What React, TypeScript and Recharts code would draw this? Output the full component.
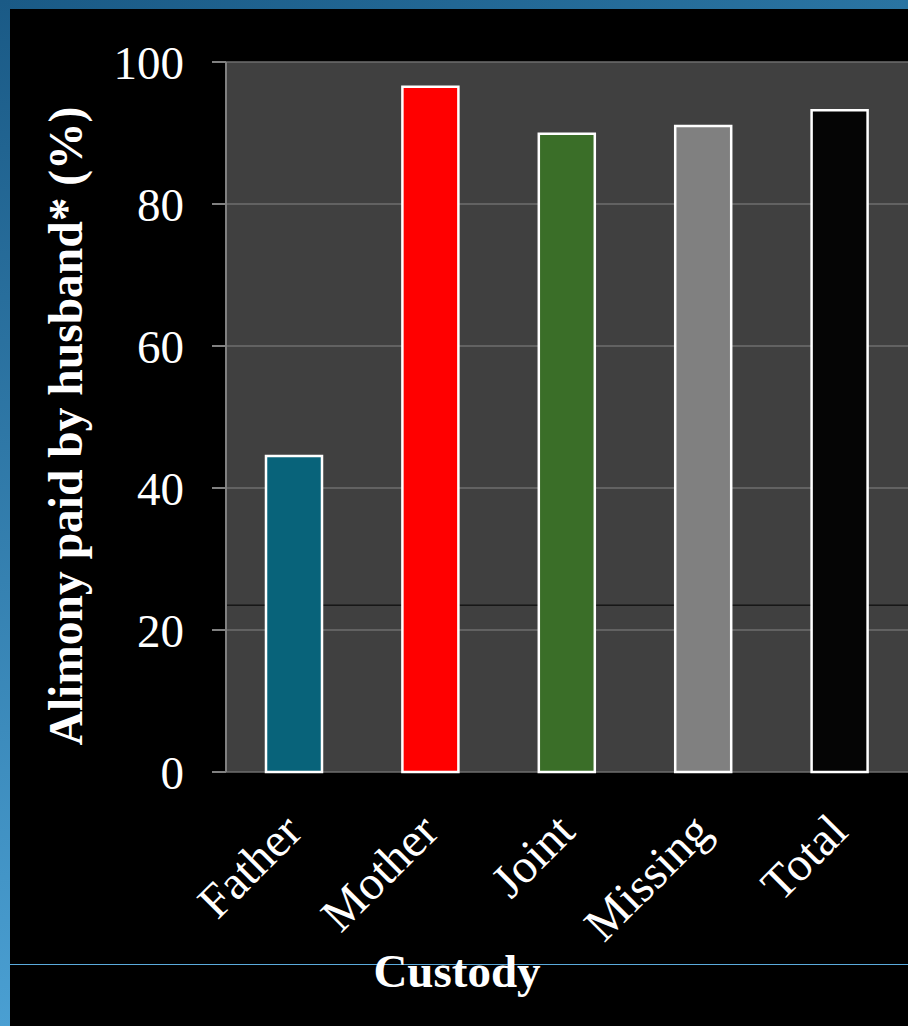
import React from "react";
import { Bar, BarChart, CartesianGrid, Cell, XAxis, YAxis } from "recharts";

const categories = ["Father", "Mother", "Joint", "Missing", "Total"];
const alimonyPaid = [44.5, 96.5, 89.9, 91.0, 93.2];
const barColors = ["#08637a", "#ff0000", "#3a6e28", "#808080", "#050505"];
const yTicks = [0, 20, 40, 60, 80, 100];
const edgeTicks = [0, 1, 2, 3, 4, 5];
const slideLine = [23.5];

const data = categories.map((name, i) => ({ name, value: alimonyPaid[i] }));

const serif = "'Liberation Serif', 'Times New Roman', serif";

const CategoryTick = (props: any) => {
  const { x, y, payload } = props;
  const tx = x - 14;
  const ty = y - 5;
  return (
    <text
      x={tx}
      y={ty}
      dy="0.71em"
      textAnchor="end"
      transform={`rotate(-45, ${tx}, ${ty})`}
      fill="#fff"
      fontSize={48}
      fontFamily={serif}
    >
      {payload.value}
    </text>
  );
};

const YTitle = (props: any) => {
  const { viewBox } = props;
  const cx = 65;
  const cy = viewBox.y + viewBox.height / 2 + 9;
  return (
    <text
      x={cx}
      y={cy}
      dy="0.35em"
      textAnchor="middle"
      transform={`rotate(-90, ${cx}, ${cy})`}
      fill="#fff"
      fontSize={47.5}
      fontWeight="bold"
      fontFamily={serif}
    >
      Alimony paid by husband* (%)
    </text>
  );
};

const App = () => (
  <div
    style={{
      position: "absolute",
      left: 0,
      top: 0,
      width: 908,
      height: 1026,
      background: "#000",
      overflow: "hidden",
    }}
  >
    <div
      style={{
        position: "absolute",
        left: 0,
        top: 0,
        width: 908,
        height: 9,
        background: "linear-gradient(90deg, #1a5a86, #2a74a2)",
      }}
    />
    <div
      style={{
        position: "absolute",
        left: 0,
        top: 0,
        width: 10,
        height: 1026,
        background: "linear-gradient(180deg, #1a5a86, #4a9fd2)",
      }}
    />
    <div
      style={{
        position: "absolute",
        left: 10,
        top: 964,
        width: 898,
        height: 1,
        background: "#5aaadc",
      }}
    />
    <div style={{ position: "absolute", left: 0, top: 0 }}>
      <BarChart
        width={908}
        height={1026}
        data={data}
        margin={{ top: 62, right: 0, left: 20, bottom: 154 }}
        barSize={56}
      >
        <CartesianGrid
          vertical={false}
          fill="#404040"
          fillOpacity={1}
          stroke="#6e6e6e"
          strokeWidth={1.5}
        />
        <CartesianGrid
          vertical={false}
          horizontalValues={slideLine}
          stroke="#000"
          strokeWidth={1}
        />
        <XAxis
          xAxisId="edges"
          type="number"
          domain={[0, 5]}
          ticks={edgeTicks}
          tick={false}
          tickSize={13}
          height={0}
          axisLine={{ stroke: "#808080", strokeWidth: 2 }}
          tickLine={{ stroke: "#808080", strokeWidth: 2 }}
        />
        <XAxis
          dataKey="name"
          height={100}
          axisLine={false}
          tickLine={false}
          tickSize={13}
          tickMargin={30}
          interval={0}
          tick={<CategoryTick />}
          label={{
            value: "Custody",
            position: "bottom",
            offset: 82,
            dx: -110,
            style: {
              fill: "#fff",
              fontSize: 47,
              fontWeight: "bold",
              fontFamily: serif,
            },
          }}
        />
        <YAxis
          width={206}
          domain={[0, 100]}
          ticks={yTicks}
          interval={0}
          tickSize={14}
          tickMargin={28}
          axisLine={{ stroke: "#808080", strokeWidth: 2 }}
          tickLine={{ stroke: "#808080", strokeWidth: 2 }}
          tick={{ fill: "#fff", fontSize: 47, fontFamily: serif }}
          label={<YTitle />}
        />
        <Bar
          dataKey="value"
          stroke="#fff"
          strokeWidth={2.5}
          isAnimationActive={false}
        >
          {data.map((d, i) => (
            <Cell key={d.name} fill={barColors[i]} />
          ))}
        </Bar>
      </BarChart>
    </div>
  </div>
);

export default App;
